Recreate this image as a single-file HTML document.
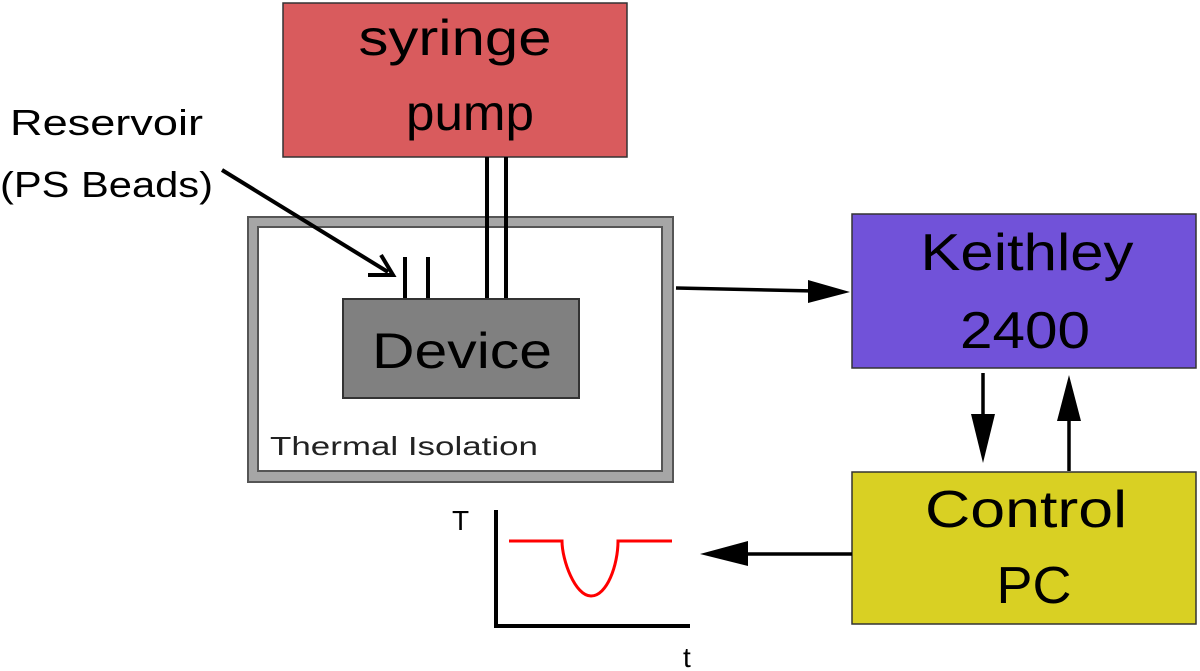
<!DOCTYPE html>
<html><head><meta charset="utf-8"><style>html,body{margin:0;padding:0;background:#fff;}svg{display:block;}</style></head>
<body>
<svg width="1200" height="671" viewBox="0 0 1200 671" xmlns="http://www.w3.org/2000/svg" font-family="Liberation Sans, DejaVu Sans, sans-serif">
<!-- syringe pump -->
<rect x="283" y="3" width="344" height="154" fill="#d95b5d" stroke="#333" stroke-width="1.5"/>
<text x="455" y="55" font-size="50" text-anchor="middle" textLength="193" lengthAdjust="spacingAndGlyphs">syringe</text>
<text x="470" y="130" font-size="50" text-anchor="middle" textLength="128" lengthAdjust="spacingAndGlyphs">pump</text>
<!-- thermal isolation -->
<rect x="248" y="217" width="425" height="265" fill="#a6a6a6" stroke="#555" stroke-width="2"/>
<rect x="258" y="227" width="404" height="244" fill="#fff" stroke="#555" stroke-width="2"/>
<text x="270" y="455" font-size="26" fill="#222" textLength="268" lengthAdjust="spacingAndGlyphs">Thermal Isolation</text>
<!-- pump lines -->
<line x1="487" y1="157" x2="487" y2="300" stroke="#000" stroke-width="4"/>
<line x1="506" y1="157" x2="506" y2="300" stroke="#000" stroke-width="4"/>
<!-- reservoir pins -->
<line x1="405" y1="257" x2="405" y2="300" stroke="#000" stroke-width="4"/>
<line x1="428" y1="257" x2="428" y2="300" stroke="#000" stroke-width="4"/>
<!-- device -->
<rect x="343" y="299" width="236" height="99" fill="#808080" stroke="#333" stroke-width="2"/>
<text x="462" y="368" font-size="50" text-anchor="middle" textLength="180" lengthAdjust="spacingAndGlyphs">Device</text>
<!-- reservoir label + arrow -->
<text x="10" y="135" font-size="36" textLength="193" lengthAdjust="spacingAndGlyphs">Reservoir</text>
<text x="0" y="197" font-size="36" textLength="213" lengthAdjust="spacingAndGlyphs">(PS Beads)</text>
<line x1="222" y1="170" x2="388" y2="272" stroke="#000" stroke-width="4"/>
<polyline points="368,275 393,275 381,255" fill="none" stroke="#000" stroke-width="4"/>
<!-- to keithley -->
<line x1="676" y1="288" x2="815" y2="291" stroke="#000" stroke-width="3.5"/>
<polygon points="850,292 808,280 808,303" fill="#000"/>
<!-- keithley -->
<rect x="852" y="214" width="344" height="154" fill="#7152d9" stroke="#333" stroke-width="1.5"/>
<text x="1027" y="270" font-size="52" text-anchor="middle" textLength="213" lengthAdjust="spacingAndGlyphs">Keithley</text>
<text x="1025" y="348" font-size="52" text-anchor="middle" textLength="130" lengthAdjust="spacingAndGlyphs">2400</text>
<!-- vertical arrows -->
<line x1="983" y1="373" x2="983" y2="430" stroke="#000" stroke-width="3.5"/>
<polygon points="983,463 971,414 995,414" fill="#000"/>
<line x1="1069" y1="471" x2="1069" y2="410" stroke="#000" stroke-width="3.5"/>
<polygon points="1069,375 1057,421 1081,421" fill="#000"/>
<!-- control PC -->
<rect x="852" y="472" width="344" height="152" fill="#d9d023" stroke="#333" stroke-width="1.5"/>
<text x="1026" y="527" font-size="52" text-anchor="middle" textLength="202" lengthAdjust="spacingAndGlyphs">Control</text>
<text x="1034" y="603" font-size="52" text-anchor="middle" textLength="75" lengthAdjust="spacingAndGlyphs">PC</text>
<!-- to graph -->
<line x1="852" y1="554" x2="735" y2="554" stroke="#000" stroke-width="3.5"/>
<polygon points="700,554 748,541 748,566" fill="#000"/>
<!-- graph -->
<polyline points="496,510 496,626 690,626" fill="none" stroke="#000" stroke-width="4"/>
<text x="452" y="530" font-size="28">T</text>
<text x="683" y="667" font-size="28">t</text>
<path d="M509,541 H562 C562,560 575,596 591,596 C607,596 618,565 618,541 H672" fill="none" stroke="#f00" stroke-width="3"/>
</svg>
</body></html>
